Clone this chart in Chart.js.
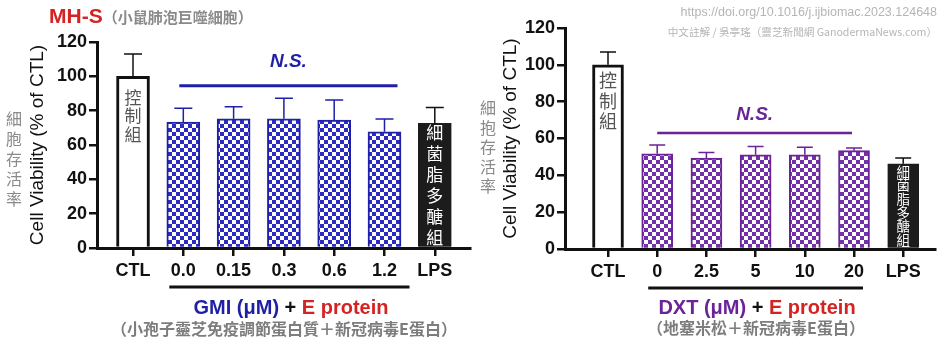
<!DOCTYPE html>
<html lang="zh-Hant">
<head>
<meta charset="utf-8">
<title>MH-S cell viability</title>
<script src="https://cdn.jsdelivr.net/npm/chart.js@4.4.1/dist/chart.umd.min.js"></script>
<style>
  html, body { margin: 0; padding: 0; background: #fff; }
  body { position: relative; width: 945px; height: 343px; overflow: hidden;
         font-family: "Liberation Sans", Arial, "Noto Sans CJK TC", sans-serif; }
  canvas { position: absolute; top: 0; }
  .abs { position: absolute; white-space: nowrap; }
  .center { transform: translateX(-50%); }
  .title { font-size: 21px; font-weight: bold; line-height: 24px; }
  .red { color: #d42323; }
  .sub { color: #8a8a8a; font-size: 15px; font-family: "Noto Sans CJK TC", sans-serif; }
  .group { font-size: 20px; font-weight: bold; line-height: 24px; color: #111; }
  .blue { color: #1f1fa6; }
  .purple { color: #6a2398; }
  .note { font-size: 16px; font-weight: bold; line-height: 20px; color: #7d7d7d;
          font-family: "Noto Sans CJK TC", sans-serif; }
  .stack { position: absolute; width: 18px; text-align: center; font-size: 16px; line-height: 20px;
           color: #8a8a8a; font-family: "Noto Sans CJK TC", sans-serif; }
  .credit { right: 8px; text-align: right; color: #b5b5b5; }
</style>
</head>
<body>
<canvas id="gmi" width="480" height="343" style="left:0"></canvas>
<canvas id="dxt" width="465" height="343" style="left:480px"></canvas>

<div class="abs title" style="left:49px;top:4px"><span class="red">MH-S</span><span class="sub">（小鼠肺泡巨噬細胞）</span></div>
<div class="abs credit" style="top:5px;font-size:12.5px">https://doi.org/10.1016/j.ijbiomac.2023.124648</div>
<div class="abs credit" style="top:24px;font-size:10.6px;font-family:'Noto Sans CJK TC',sans-serif">中文註解 / 吳亭瑤（靈芝新聞網 GanodermaNews.com）</div>

<div class="stack" style="left:5px;top:108px">細胞存活率</div>
<div class="stack" style="left:479px;top:98px;line-height:19.5px">細抱存活率</div>

<div class="abs group center" style="left:291px;top:295px"><span class="blue">GMI (μM)</span> + <span class="red">E protein</span></div>
<div class="abs note center" style="left:284px;top:318px">（小孢子靈芝免疫調節蛋白質＋新冠病毒E蛋白）</div>
<div class="abs group center" style="left:757px;top:295px"><span class="purple">DXT (μM)</span> + <span class="red">E protein</span></div>
<div class="abs note center" style="left:756px;top:317px">（地塞米松＋新冠病毒E蛋白）</div>

<script>
// GMI + E protein, MH-S cells
const gmiLabels = ['CTL', '0.0', '0.15', '0.3', '0.6', '1.2', 'LPS'];
const gmiViability = [100, 73.4, 75.3, 75.3, 74.5, 67.7, 72.6];
const gmiError = [13, 8, 7, 12, 11.7, 7.4, 9.3];

// DXT + E protein, MH-S cells
const dxtLabels = ['CTL', '0', '2.5', '5', '10', '20', 'LPS'];
const dxtViability = [100, 51.7, 49.4, 51.2, 51.2, 53.4, 46.3];
const dxtError = [7, 4.8, 3, 4.5, 4, 1.4, 3.1];

const yTicks = [0, 20, 40, 60, 80, 100, 120];
const nsLevel = { gmi: 94.5, dxt: 63 };

const FONT = '"Liberation Sans", Arial, "Noto Sans CJK TC", sans-serif';
const CJK = '"Noto Sans CJK TC", sans-serif';
const INK = '#111';

// small checkerboard fill for the treated groups
function checker(color) {
  const c = document.createElement('canvas');
  c.width = 8; c.height = 8;
  const g = c.getContext('2d');
  g.fillStyle = '#fff';
  g.fillRect(0, 0, 8, 8);
  g.fillStyle = color;
  g.fillRect(0, 0, 4, 4);
  g.fillRect(4, 4, 4, 4);
  return g.createPattern(c, 'repeat');
}

// error whiskers, labels inside CTL/LPS bars, N.S. bracket and group underline
function marks(o) {
  return {
    id: 'marks',
    afterDatasetsDraw(chart) {
      const { ctx, scales: { x, y } } = chart;
      const bars = chart.getDatasetMeta(0).data;
      ctx.save();

      bars.forEach((bar, i) => {
        const top = y.getPixelForValue(o.values[i] + o.errors[i]);
        ctx.strokeStyle = i === 0 || i === bars.length - 1 ? INK : o.color;
        ctx.lineWidth = 1.5;
        ctx.beginPath();
        ctx.moveTo(bar.x, bar.y);
        ctx.lineTo(bar.x, top);
        ctx.moveTo(bar.x - o.cap / 2, top);
        ctx.lineTo(bar.x + o.cap / 2, top);
        ctx.stroke();
      });

      ctx.textAlign = 'center';
      ctx.textBaseline = 'middle';
      o.inner.forEach(t => {
        const bar = bars[t.index];
        ctx.fillStyle = t.color;
        ctx.font = `${t.size}px ${CJK}`;
        [...t.text].forEach((ch, k) => ctx.fillText(ch, bar.x, bar.y + t.offset + k * t.step));
      });

      // N.S. bracket over the treated groups
      const ny = y.getPixelForValue(o.ns.level);
      const nx0 = x.getPixelForValue(1) + o.ns.pad[0];
      const nx1 = x.getPixelForValue(5) + o.ns.pad[1];
      ctx.strokeStyle = o.color;
      ctx.lineWidth = o.ns.width;
      ctx.beginPath();
      ctx.moveTo(nx0, ny);
      ctx.lineTo(nx1, ny);
      ctx.stroke();
      ctx.fillStyle = o.color;
      ctx.font = `italic bold 19px ${FONT}`;
      ctx.fillText('N.S.', (nx0 + nx1) / 2, ny - o.ns.lift);

      // underline beneath the dose labels
      const uy = x.bottom - 1;
      ctx.strokeStyle = INK;
      ctx.lineWidth = 3;
      ctx.beginPath();
      ctx.moveTo(x.getPixelForValue(1) + o.under[0], uy);
      ctx.lineTo(x.getPixelForValue(5) + o.under[1], uy);
      ctx.stroke();
      ctx.restore();
    }
  };
}

function viabilityChart(id, o) {
  const n = o.labels.length;
  const fill = checker(o.fill);
  const bold = { family: FONT, size: 18, weight: 'bold' };
  return new Chart(document.getElementById(id), {
    type: 'bar',
    data: {
      datasets: [{
        data: o.values.map((v, i) => ({ x: i, y: v })),
        backgroundColor: o.labels.map((_, i) => i === 0 ? '#fff' : i === n - 1 ? '#1c1c1c' : fill),
        borderColor: o.labels.map((_, i) => i === 0 ? INK : i === n - 1 ? '#1c1c1c' : o.color),
        borderWidth: o.labels.map((_, i) => i === 0 ? 3 : i === n - 1 ? 1 : 2),
        barThickness: o.barWidth
      }]
    },
    options: {
      responsive: false,
      animation: false,
      devicePixelRatio: 1,
      layout: { padding: o.padding },
      plugins: { legend: { display: false }, tooltip: { enabled: false } },
      scales: {
        x: {
          type: 'linear',
          offset: false,
          min: o.xRange[0],
          max: o.xRange[1],
          afterBuildTicks: s => { s.ticks = o.labels.map((_, i) => ({ value: i })); },
          afterFit: s => { s.height = 40; },
          ticks: { callback: v => o.labels[v], font: bold, color: INK, padding: 4, maxRotation: 0, autoSkip: false },
          grid: { offset: false, drawOnChartArea: false, tickLength: 8, color: INK, lineWidth: 2.5 },
          border: { color: INK, width: 3 }
        },
        y: {
          min: 0,
          max: 120,
          afterBuildTicks: s => { s.ticks = yTicks.map(v => ({ value: v })); },
          afterFit: s => { s.width = o.yWidth; },
          ticks: { font: bold, color: INK, padding: 2 },
          grid: { drawOnChartArea: false, tickLength: 8, color: INK, lineWidth: 2.5 },
          border: { color: INK, width: 3 },
          title: {
            display: true,
            text: 'Cell Viability (% of CTL)',
            font: { family: FONT, size: 19 },
            color: INK,
            padding: { top: o.titlePad, bottom: 0 }
          }
        }
      }
    },
    plugins: [marks(o)]
  });
}

viabilityChart('gmi', {
  labels: gmiLabels,
  values: gmiViability,
  errors: gmiError,
  color: '#1f1fa8',
  fill: '#2b2bc4',
  barWidth: 33,
  cap: 18,
  xRange: [-0.716, 6.70],
  yWidth: 97,
  titlePad: 26,
  padding: { left: 0, top: 42, right: 10, bottom: 55 },
  ns: { level: nsLevel.gmi, pad: [-4, 13], lift: 24, width: 3 },
  under: [-14, 25],
  inner: [
    { index: 0, text: '控制組', color: '#555', size: 17, offset: 21, step: 18.5 },
    { index: 6, text: '細菌脂多醣組', color: '#fff', size: 17, offset: 9, step: 21 }
  ]
});

viabilityChart('dxt', {
  labels: dxtLabels,
  values: dxtViability,
  errors: dxtError,
  color: '#6a2398',
  fill: '#7430a8',
  barWidth: 31,
  cap: 16,
  xRange: [-0.874, 6.646],
  yWidth: 85,
  titlePad: 19,
  padding: { left: 0, top: 28, right: 10, bottom: 54 },
  ns: { level: nsLevel.dxt, pad: [0, -2], lift: 18, width: 2.5 },
  under: [-9, 9],
  inner: [
    { index: 0, text: '控制組', color: '#555', size: 18, offset: 15.5, step: 20.5 },
    { index: 6, text: '細菌脂多醣組', color: '#fff', size: 13.5, offset: 8, step: 13.6 }
  ]
});
</script>
</body>
</html>
